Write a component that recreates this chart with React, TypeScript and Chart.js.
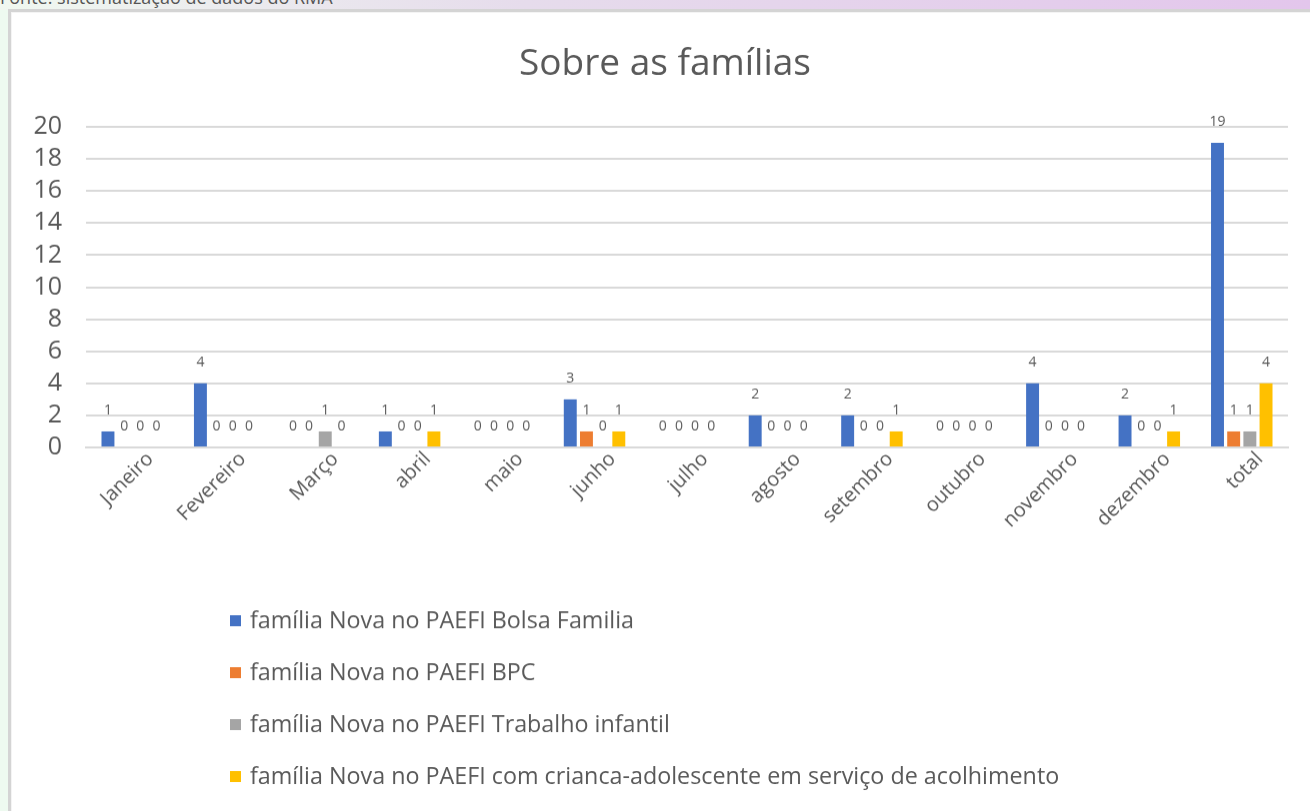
import React, { useEffect, useRef } from "react";
import { Chart, registerables } from "chart.js";

Chart.register(...registerables);

const categories = [
  "Janeiro", "Fevereiro", "Março", "abril", "maio", "junho", "julho",
  "agosto", "setembro", "outubro", "novembro", "dezembro", "total",
];
const bolsaFamilia = [1, 4, 0, 1, 0, 3, 0, 2, 2, 0, 4, 2, 19];
const bpc = [0, 0, 0, 0, 0, 1, 0, 0, 0, 0, 0, 0, 1];
const trabalhoInfantil = [0, 0, 1, 0, 0, 0, 0, 0, 0, 0, 0, 0, 1];
const acolhimento = [0, 0, 0, 1, 0, 1, 0, 0, 1, 0, 0, 1, 4];
const seriesLabels = [
  "família Nova no PAEFI Bolsa Familia",
  "família Nova no PAEFI BPC",
  "família Nova no PAEFI Trabalho infantil",
  "família Nova no PAEFI com crianca-adolescente em serviço de acolhimento",
];
const seriesColors = ["#4472C4", "#ED7D31", "#A5A5A5", "#FFC000"];
const titleText = "Sobre as famílias";
const sourceText = "Fonte: sistematização de dados do RMA";
const yMin = 0;
const yMax = 20;
const yStep = 2;

const FONT = "'Open Sans', 'Noto Sans', sans-serif";
const TEXT = "#595959";

const dataLabelPlugin = {
  id: "dataLabels",
  afterDatasetsDraw(chart: any) {
    const ctx = chart.ctx;
    ctx.save();
    ctx.font = `14px ${FONT}`;
    ctx.fillStyle = TEXT;
    ctx.textAlign = "center";
    ctx.textBaseline = "middle";
    chart.data.datasets.forEach((ds: any, di: number) => {
      const meta = chart.getDatasetMeta(di);
      meta.data.forEach((el: any, i: number) => {
        ctx.fillText(String(ds.data[i]), el.x, el.y - 21);
      });
    });
    ctx.restore();
  },
};

const titleLegendPlugin = {
  id: "titleLegend",
  afterDraw(chart: any) {
    const ctx = chart.ctx;
    const area = chart.chartArea;
    ctx.save();
    ctx.fillStyle = TEXT;
    ctx.font = `37px ${FONT}`;
    ctx.textAlign = "center";
    ctx.textBaseline = "middle";
    ctx.fillText(titleText, chart.width / 2 + 4, 51);

    ctx.font = `23.3px ${FONT}`;
    ctx.textAlign = "left";
    const lx = area.left + 144;
    const ly = area.bottom + 174;
    chart.data.datasets.forEach((ds: any, i: number) => {
      const y = ly + i * 52;
      ctx.fillStyle = ds.backgroundColor;
      ctx.fillRect(lx, y - 6, 11, 11);
      ctx.fillStyle = TEXT;
      ctx.fillText(ds.label, lx + 20, y);
    });
    ctx.restore();
  },
};

export default function App() {
  const ref = useRef<HTMLCanvasElement>(null);

  useEffect(() => {
    if (!ref.current) return;
    const seriesData = [bolsaFamilia, bpc, trabalhoInfantil, acolhimento];
    const chart = new Chart(ref.current, {
      type: "bar",
      data: {
        labels: categories,
        datasets: seriesData.map((d, i) => ({
          label: seriesLabels[i],
          data: d,
          backgroundColor: seriesColors[i],
          borderWidth: 0,
          categoryPercentage: 0.7,
          barPercentage: 0.8,
        })),
      },
      options: {
        animation: false,
        responsive: false,
        maintainAspectRatio: false,
        layout: { padding: { top: 114, right: 22, bottom: 264, left: 0 } },
        plugins: {
          legend: { display: false },
          title: { display: false },
          tooltip: { enabled: false },
        },
        scales: {
          x: {
            grid: { display: false, drawTicks: false },
            border: { display: true, color: "#d9d9d9", width: 2 },
            ticks: {
              color: TEXT,
              font: { family: FONT, size: 20 },
              minRotation: 45,
              maxRotation: 45,
              padding: 0,
              labelOffset: 18,
              autoSkip: false,
            },
            afterFit(scale: any) {
              scale.height = 100;
            },
          },
          y: {
            min: yMin,
            max: yMax,
            grid: { color: "#d9d9d9", lineWidth: 2, drawTicks: false },
            border: { display: false },
            ticks: {
              stepSize: yStep,
              autoSkip: false,
              color: TEXT,
              font: { family: FONT, size: 25 },
              padding: 24,
            },
            afterFit(scale: any) {
              scale.width = 74;
            },
          },
        },
      },
      plugins: [dataLabelPlugin, titleLegendPlugin],
    });
    return () => chart.destroy();
  }, []);

  return (
    <div
      style={{
        position: "fixed",
        left: 0,
        top: 0,
        width: 1310,
        height: 811,
        overflow: "hidden",
        background: "#eefaf0",
        fontFamily: FONT,
      }}
    >
      <div
        style={{
          position: "absolute",
          left: 0,
          top: 0,
          width: 1310,
          height: 10,
          background: "linear-gradient(to right, #f0f8f0, #e6dcec 40%, #e3c6ec)",
        }}
      />
      <div
        style={{
          position: "absolute",
          left: 0,
          top: -15,
          fontSize: 18,
          color: "#555555",
          whiteSpace: "nowrap",
        }}
      >
        {sourceText}
      </div>
      <div
        style={{
          position: "absolute",
          left: 8,
          top: 9,
          width: 1302,
          height: 802,
          background: "#d4d4d4",
        }}
      />
      <div
        style={{
          position: "absolute",
          left: 11,
          top: 12,
          width: 1299,
          height: 799,
          background: "#f4f4f4",
        }}
      />
      <canvas
        ref={ref}
        width={1298}
        height={799}
        style={{ position: "absolute", left: 12, top: 13, width: 1298, height: 798, background: "#ffffff" }}
      />
    </div>
  );
}
